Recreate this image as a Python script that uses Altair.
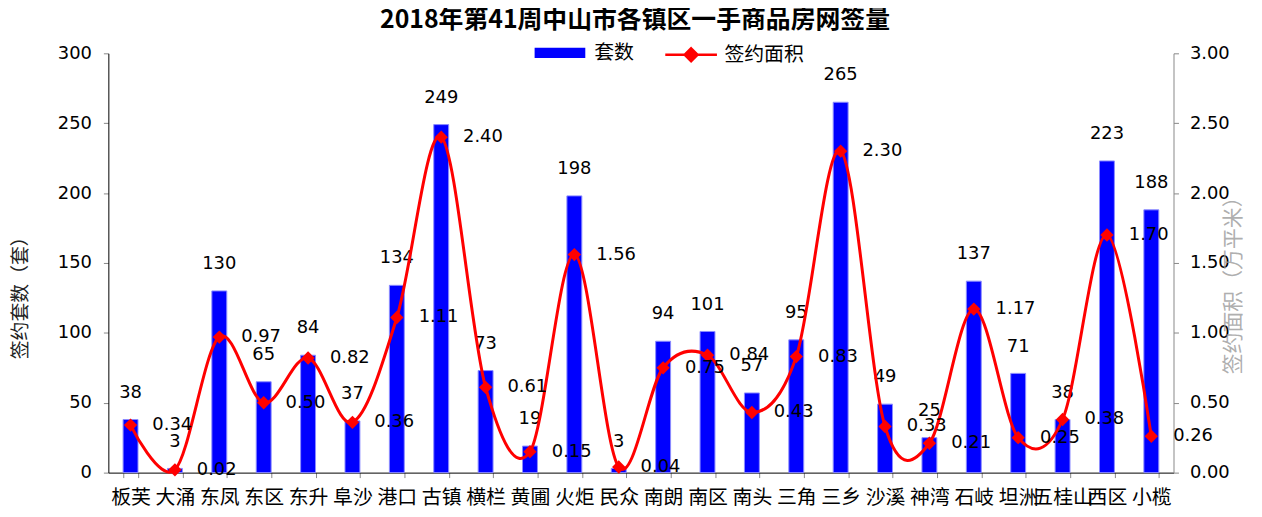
import altair as alt
import pandas as pd

towns = ["板芙", "大涌", "东凤", "东区", "东升", "阜沙", "港口", "古镇", "横栏", "黄圃", "火炬", "民众",
         "南朗", "南区", "南头", "三角", "三乡", "沙溪", "神湾", "石岐", "坦洲", "五桂山", "西区", "小榄"]
counts = [38, 3, 130, 65, 84, 37, 134, 249, 73, 19, 198, 3, 94, 101, 57, 95, 265, 49, 25, 137, 71, 38, 223, 188]
areas = [0.34, 0.02, 0.97, 0.50, 0.82, 0.36, 1.11, 2.40, 0.61, 0.15, 1.56, 0.04, 0.75, 0.84, 0.43, 0.83,
         2.30, 0.33, 0.21, 1.17, 0.25, 0.38, 1.70, 0.26]
left_ticks = [0, 50, 100, 150, 200, 250, 300]
right_ticks = [0, 0.5, 1.0, 1.5, 2.0, 2.5, 3.0]

df = pd.DataFrame({"town": towns, "count": counts, "area": areas})
df["s1"] = "套数"
df["s2"] = "签约面积"

FONT = "DejaVu Sans, Noto Sans CJK SC"
CJK = "Noto Sans CJK SC"

x = alt.X("town:N", sort=towns,
          scale=alt.Scale(paddingInner=0.664, paddingOuter=0.332),
          axis=alt.Axis(title=None, labelAngle=0, labelFontSize=20, labelColor="#000", labelFont=CJK,
                        tickBand="extent", tickColor="#888", tickSize=5, domainColor="#000",
                        labelPadding=10, labelOverlap=False, labelBound=False))

y_left = alt.Y("count:Q", scale=alt.Scale(domain=[0, 300], nice=False),
               axis=alt.Axis(values=left_ticks, title="签约套数（套）", titleFontSize=19, titleFont=CJK,
                             titleFontWeight="normal", titleColor="#222", labelFontSize=18,
                             labelColor="#000", grid=False, domainColor="#000", tickColor="#888",
                             tickSize=5, labelPadding=12, titleX=-88, titleY=241,
                             titleAlign="center", titleBaseline="middle", titleAngle=270))

y_right = alt.Y("area:Q", scale=alt.Scale(domain=[0, 3], nice=False),
                axis=alt.Axis(orient="right", values=right_ticks, format=".2f",
                              title="签约面积（万平米）", titleFontSize=21, titleFontWeight="normal",
                              titleFont=CJK, titleColor="#999", titleOpacity=0.8, labelFontSize=18,
                              labelColor="#000", grid=False, domainColor="#888", tickColor="#888",
                              tickSize=5, labelPadding=11, titleX=60, titleY=228, titleAlign="center",
                              titleBaseline="middle", titleAngle=270))

base = alt.Chart(df)

bars = base.mark_bar(stroke="#8c8cff", strokeWidth=1).encode(
    x=x, y=y_left,
    color=alt.Color("s1:N", scale=alt.Scale(domain=["套数"], range=["#0000FF"]),
                    legend=alt.Legend(title=None, orient="none", legendX=429, legendY=-26,
                                      symbolType="M-1,-0.2H1V0.2H-1Z", symbolSize=2601,
                                      symbolStrokeWidth=0, labelFontSize=20, labelColor="#000",
                                      labelFont=CJK, labelOffset=9, padding=0)))

count_text = base.mark_text(dy=-27, fontSize=18, baseline="middle", color="#000").encode(
    x=x, y=y_left, text="count:Q")

line = base.mark_line(interpolate="cardinal", strokeWidth=3).encode(
    x=x, y=y_right,
    stroke=alt.Stroke("s2:N", scale=alt.Scale(domain=["签约面积"], range=["#FF0000"]),
                      legend=alt.Legend(title=None, orient="none", legendX=559, legendY=-26,
                                        symbolType="M-1,0H1M0,-0.25L0.25,0L0,0.25L-0.25,0Z",
                                        symbolSize=2704, symbolStrokeWidth=2.5,
                                        symbolFillColor="#FF0000", labelFontSize=20,
                                        labelFont=CJK, labelColor="#000", labelOffset=6, padding=0)))

points = base.mark_point(shape="diamond", filled=True, size=180, color="#FF0000", opacity=1).encode(
    x=x, y=y_right)

area_text = base.mark_text(dx=42, fontSize=18, baseline="middle", color="#000").encode(
    x=x, y=y_right, text=alt.Text("area:Q", format=".2f"))

chart = alt.layer(
    alt.layer(bars, count_text),
    alt.layer(line, points, area_text),
).resolve_scale(y="independent", color="independent").properties(
    width=1072, height=422,
    autosize=alt.AutoSizeParams(type="none"),
    padding={"left": 101, "top": 44, "right": 81, "bottom": 35},
    title=alt.Title("2018年第41周中山市各镇区一手商品房网签量", fontSize=25, fontWeight="bold",
                    font=CJK, color="#000", offset=0, dy=6, anchor="middle", dx=-6),
).configure(font=FONT).configure_view(stroke=None)

chart.save("out.html", embed_options={"renderer": "svg", "actions": False})
